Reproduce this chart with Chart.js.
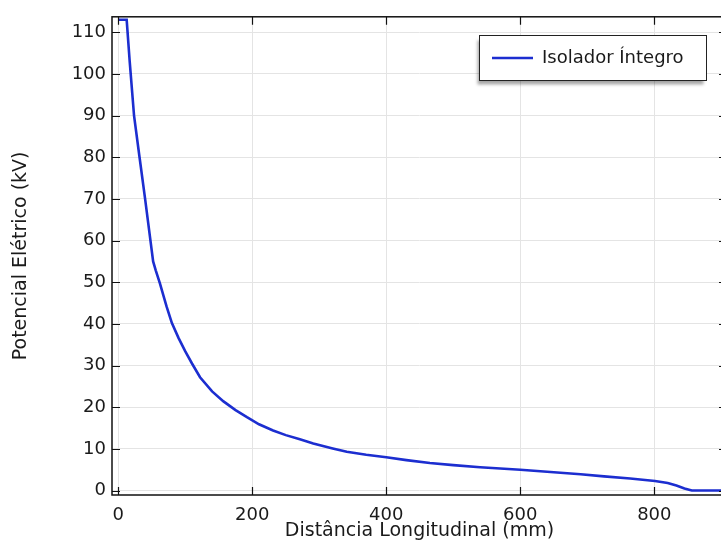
<!DOCTYPE html>
<html><head><meta charset="utf-8">
<script src="https://cdn.jsdelivr.net/npm/chart.js@4"></script>
<style>
html,body{margin:0;padding:0;background:#fff;overflow:hidden;width:721px;height:544px}
#wrap{position:relative;width:740px;height:544px}
</style></head>
<body><div id="wrap"><canvas id="c" width="740" height="544"></canvas></div>
<script>
const distances = [0,12.5,17,23.5,31.7,40,48,52,56,62,72,80,90,100,110,122,140,157,175,192,210,231,250,271,291,320,341,370,400,430,465,500,540,570,600,650,690,725,764,801,820,833,845,856,880,910];
const potentials = [113,113,103,90,80,70,60,55,52.8,49.8,44.2,40.2,36.6,33.4,30.5,27.2,23.8,21.4,19.3,17.6,15.9,14.4,13.3,12.3,11.3,10.1,9.3,8.6,8.0,7.3,6.6,6.1,5.6,5.3,5.0,4.4,3.9,3.4,2.9,2.3,1.8,1.2,0.5,0,0,0];
const xTickValues = [0,200,400,600,800];
const yTickValues = [0,10,20,30,40,50,60,70,80,90,100,110];
const seriesLabel = 'Isolador Íntegro';
const xTitle = 'Distância Longitudinal (mm)';
const yTitle = 'Potencial Elétrico (kV)';

const FONT = 'DejaVu Sans';
const LINE_COLOR = '#1c2ed0';

const framePlugin = {
  id: 'frame',
  afterDatasetsDraw(chart) {
    const {ctx, chartArea: a, scales: {x, y}} = chart;
    ctx.save();
    ctx.strokeStyle = '#111';
    ctx.lineWidth = 1.5;
    ctx.strokeRect(a.left, a.top, a.right - a.left, a.bottom - a.top);
    ctx.lineWidth = 1.2;
    const L = 8;
    ctx.beginPath();
    x.ticks.forEach(t => {
      const px = Math.round(x.getPixelForValue(t.value)) + 0.5;
      ctx.moveTo(px, a.bottom); ctx.lineTo(px, a.bottom - L);
      ctx.moveTo(px, a.top); ctx.lineTo(px, a.top + L);
    });
    y.ticks.forEach(t => {
      const py = Math.round(y.getPixelForValue(t.value)) + 0.5;
      ctx.moveTo(a.left, py); ctx.lineTo(a.left + L, py);
      ctx.moveTo(a.right, py); ctx.lineTo(a.right - L, py);
    });
    ctx.stroke();
    ctx.restore();
  },
  afterDraw(chart) {
    const {ctx} = chart;
    const bx = 479.5, by = 35.5, bw = 227, bh = 45;
    ctx.save();
    ctx.shadowColor = 'rgba(0,0,0,0.35)';
    ctx.shadowBlur = 3;
    ctx.shadowOffsetX = -3;
    ctx.shadowOffsetY = 4;
    ctx.fillStyle = '#fff';
    ctx.fillRect(bx, by, bw, bh);
    ctx.restore();
    ctx.save();
    ctx.strokeStyle = '#222';
    ctx.lineWidth = 1;
    ctx.strokeRect(bx, by, bw, bh);
    ctx.strokeStyle = LINE_COLOR;
    ctx.lineWidth = 2.5;
    ctx.beginPath();
    ctx.moveTo(492, by + bh / 2); ctx.lineTo(533, by + bh / 2);
    ctx.stroke();
    ctx.fillStyle = '#1a1a1a';
    ctx.font = '18px "' + FONT + '"';
    ctx.textBaseline = 'middle';
    ctx.fillText(seriesLabel, 542, by + bh / 2);
    ctx.restore();
  }
};

new Chart(document.getElementById('c'), {
  type: 'line',
  data: {
    datasets: [{
      label: seriesLabel,
      data: distances.map((d, i) => ({x: d, y: potentials[i]})),
      borderColor: LINE_COLOR,
      borderWidth: 2.6,
      pointRadius: 0,
      tension: 0,
      fill: false
    }]
  },
  options: {
    responsive: false,
    animation: false,
    devicePixelRatio: 1,
    layout: {padding: {left: 0, top: 14, right: 13, bottom: 0}},
    plugins: {legend: {display: false}, tooltip: {enabled: false}},
    scales: {
      x: {
        type: 'linear',
        min: -9.4, max: 908.5,
        afterBuildTicks(s) { s.ticks = xTickValues.map(v => ({value: v})); },
        afterFit(s) { s.height = 49; },
        grid: {color: '#e4e4e4', lineWidth: 1, drawTicks: false},
        border: {display: false},
        ticks: {padding: 10, color: '#1a1a1a', font: {family: FONT, size: 18}, maxRotation: 0, includeBounds: false},
        title: {display: true, text: xTitle, color: '#1a1a1a', font: {family: FONT, size: 19}, padding: {top: 0, bottom: 2}}
      },
      y: {
        type: 'linear',
        min: -1.07, max: 113.72,
        afterBuildTicks(s) { s.ticks = yTickValues.map(v => ({value: v})); },
        afterFit(s) { s.width = 112; },
        grid: {color: '#e4e4e4', lineWidth: 1, drawTicks: false},
        border: {display: false},
        ticks: {padding: 6, color: '#1a1a1a', font: {family: FONT, size: 18}, includeBounds: false},
        title: {display: true, text: yTitle, color: '#1a1a1a', font: {family: FONT, size: 19}, padding: {top: 10, bottom: 0}}
      }
    }
  },
  plugins: [framePlugin]
});
</script>
</body></html>
